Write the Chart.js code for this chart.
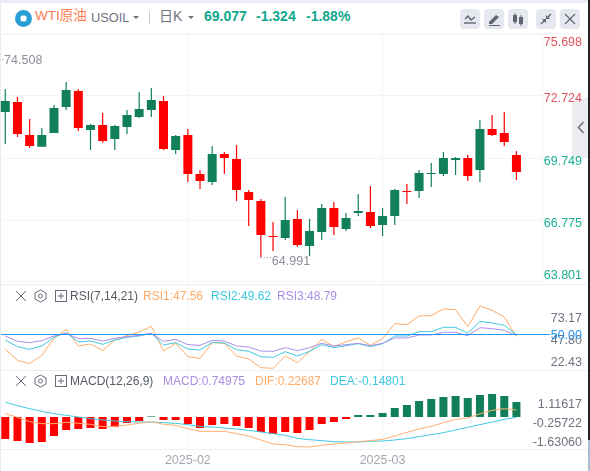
<!DOCTYPE html>
<html lang="zh">
<head>
<meta charset="utf-8">
<title>WTI原油 USOIL</title>
<script src="https://cdn.jsdelivr.net/npm/chart.js@4/dist/chart.umd.min.js"></script>
<style>
    html, body { margin: 0; padding: 0; background: #fff; overflow: hidden; }
    body { position: relative; width: 590px; height: 471px; font-family: "Liberation Sans", "Noto Sans CJK SC", sans-serif; }
    canvas { position: absolute; left: 0; }
    .t { position: absolute; white-space: nowrap; line-height: 16px; }
    .raya { position: absolute; background: #eceef2; }
    .boton { position: absolute; top: 9px; width: 20px; height: 20px; background: #e6e8ef; border-radius: 4px; }
    .boton svg, .icono { position: absolute; display: block; }
    .caret { position: absolute; width: 0; height: 0; border-left: 3px solid transparent; border-right: 3px solid transparent; border-top: 3px solid #6e7380; }
</style>
</head>
<body>
    <div class="raya" style="left:0;top:0;width:588px;height:3px;background:#e9edf3"></div>
    <div class="raya" style="left:0;top:3px;width:1px;height:468px;background:#e6e9f2"></div>
    <div class="raya" style="left:588px;top:0;width:2px;height:440px;background:#222"></div>
    <div class="raya" style="left:588px;top:440px;width:2px;height:31px;background:#a9bdd1"></div>
    <div class="raya" style="left:0;top:33px;width:587px;height:1px;background:#f5f6f8"></div>
    <div class="raya" style="left:0;top:284px;width:587px;height:1px"></div>
    <div class="raya" style="left:0;top:370px;width:587px;height:1px"></div>
    <div class="raya" style="left:0;top:449px;width:587px;height:1px"></div>
    <div class="raya" style="left:572px;top:97px;width:16px;height:61px;background:#ebebf0;clip-path:polygon(0 6px,100% 0,100% 100%,0 100%)"></div>
    <svg class="icono" style="left:577px;top:121px" width="8" height="13"><path d="M6.5 1 L1.5 6.5 L6.5 12" fill="none" stroke="#6b7280" stroke-width="1.6"/></svg>

    <canvas id="precio" width="582" height="250" style="top:34px"></canvas>
    <canvas id="rsi" width="582" height="86" style="top:284px"></canvas>
    <canvas id="macd" width="582" height="101" style="top:370px"></canvas>

    <!-- cabecera -->
    <svg class="icono" style="left:15px;top:10px" width="17" height="17"><circle cx="8.5" cy="8.5" r="8.5" fill="#2a9fd6"/><rect x="5.5" y="5.5" width="6" height="6" rx="2" fill="#fff"/></svg>
    <span class="t" style="left:35px;top:8px;font-size:13.5px;color:#ff7b52">WTI原油</span>
    <span class="t" style="left:91px;top:10px;font-size:12.8px;color:#6e7380">USOIL</span>
    <i class="caret" style="left:133px;top:16px"></i>
    <div class="raya" style="left:149px;top:11px;width:1px;height:13px;background:#c9ccd4"></div>
    <span class="t" style="left:159px;top:8px;font-size:14px;color:#6e7380">日K</span>
    <i class="caret" style="left:188px;top:16px"></i>
    <span class="t" style="left:204px;top:8px;font-size:14px;font-weight:bold;color:#0fa78c">69.077</span>
    <span class="t" style="left:256px;top:8px;font-size:14px;font-weight:bold;color:#0fa78c">-1.324</span>
    <span class="t" style="left:306px;top:8px;font-size:14px;font-weight:bold;color:#0fa78c">-1.88%</span>

    <div class="boton" style="left:460px"><svg width="20" height="20"><path d="M5 10 L8 7 L11 11 L15 8" fill="none" stroke="#5f6472" stroke-width="1.4"/><path d="M4 14 H16" stroke="#5f6472" stroke-width="1.4"/></svg></div>
    <div class="boton" style="left:484px"><svg width="20" height="20"><path d="M5 13 L12 6 L15 8 L8 15 L5 15 Z" fill="#5f6472"/><path d="M5 16.5 H16" stroke="#5f6472" stroke-width="1"/></svg></div>
    <div class="boton" style="left:508px"><svg width="20" height="20"><rect x="5" y="6" width="4" height="7" fill="#5f6472"/><path d="M7 4 V15" stroke="#5f6472"/><rect x="11" y="8" width="4" height="7" fill="#5f6472"/><path d="M13 6 V17" stroke="#5f6472"/></svg></div>
    <div class="boton" style="left:536px"><svg width="20" height="20"><path d="M15 5 L11 9 M5 15 L9 11" stroke="#5f6472" stroke-width="1.4"/><path d="M10 6 V10 H14 Z M6 10 H10 V14 Z" fill="#5f6472"/></svg></div>
    <div class="boton" style="left:560px"><svg width="20" height="20"><path d="M5 5 L15 15 M15 5 L5 15" stroke="#5f6472" stroke-width="1.2"/></svg></div>

    <!-- cabecera RSI -->
    <svg class="icono" style="left:15px;top:290px" width="12" height="12"><path d="M1 1 L11 11 M11 1 L1 11" stroke="#666b78" stroke-width="1"/></svg>
    <svg class="icono" style="left:34px;top:289px" width="13" height="14"><path d="M6.5 1 L12 4 V10 L6.5 13 L1 10 V4 Z" fill="none" stroke="#666b78"/><circle cx="6.5" cy="7" r="2" fill="none" stroke="#666b78"/></svg>
    <svg class="icono" style="left:55px;top:290px" width="12" height="12"><rect x="0.5" y="0.5" width="11" height="11" fill="none" stroke="#666b78"/><path d="M6 3 V9 M3 6 H9" stroke="#666b78"/></svg>
    <span class="t" style="left:70px;top:288px;font-size:12px;color:#555a66">RSI(7,14,21)</span>
    <span class="t" style="left:143px;top:288px;font-size:12px;color:#ffab66">RSI1:47.56</span>
    <span class="t" style="left:211px;top:288px;font-size:12px;color:#3ec8e0">RSI2:49.62</span>
    <span class="t" style="left:277px;top:288px;font-size:12px;color:#a98ee6">RSI3:48.79</span>

    <!-- cabecera MACD -->
    <svg class="icono" style="left:15px;top:375px" width="12" height="12"><path d="M1 1 L11 11 M11 1 L1 11" stroke="#666b78" stroke-width="1"/></svg>
    <svg class="icono" style="left:34px;top:374px" width="13" height="14"><path d="M6.5 1 L12 4 V10 L6.5 13 L1 10 V4 Z" fill="none" stroke="#666b78"/><circle cx="6.5" cy="7" r="2" fill="none" stroke="#666b78"/></svg>
    <svg class="icono" style="left:55px;top:375px" width="12" height="12"><rect x="0.5" y="0.5" width="11" height="11" fill="none" stroke="#666b78"/><path d="M6 3 V9 M3 6 H9" stroke="#666b78"/></svg>
    <span class="t" style="left:70px;top:373px;font-size:12px;color:#555a66">MACD(12,26,9)</span>
    <span class="t" style="left:163px;top:373px;font-size:12px;color:#a98ee6">MACD:0.74975</span>
    <span class="t" style="left:255px;top:373px;font-size:12px;color:#ffab66">DIF:0.22687</span>
    <span class="t" style="left:330px;top:373px;font-size:12px;color:#3ec8e0">DEA:-0.14801</span>

<script>
// --- DATOS ---
const aperturas = [71.956,72.435,70.852,70.291,70.948,72.195,72.963,71.092,71.332,70.660,71.236,71.716,72.052,72.483,70.133,70.852,68.981,68.598,69.941,69.701,68.118,67.686,66.007,65.911,66.823,65.528,66.199,67.350,66.343,67.111,67.159,66.535,66.967,68.166,68.166,68.981,68.981,69.653,69.749,69.173,71.140,70.948,69.893];
const cierres = [72.483,70.900,70.325,70.852,72.148,73.011,71.188,71.332,70.564,71.284,71.812,72.100,72.531,70.181,70.804,68.981,68.646,69.941,69.749,68.214,67.734,66.055,65.959,66.775,65.576,66.247,67.350,66.439,66.871,67.207,66.487,66.967,68.214,68.118,69.029,69.029,69.749,69.749,68.886,71.140,70.852,70.517,69.077];
const maximos = [73.059,72.675,71.620,71.188,72.291,73.395,73.059,71.380,71.908,71.332,72.052,72.915,73.107,72.723,70.852,71.140,69.173,70.325,70.037,70.373,68.214,67.782,66.679,67.878,67.255,66.823,67.542,67.638,67.111,68.022,68.406,67.350,68.262,68.502,69.173,69.509,70.037,69.797,69.893,71.572,71.812,71.956,70.085];
const minimos = [70.421,70.756,70.243,70.277,70.948,72.052,71.044,70.133,70.483,70.133,70.900,71.668,71.716,70.133,69.941,68.598,68.262,68.454,68.981,67.686,66.487,64.991,65.288,65.815,65.480,65.040,65.815,66.055,66.247,66.967,66.391,66.007,66.535,67.542,67.830,68.358,68.886,68.934,68.646,68.598,70.804,70.325,68.694];

const rsi1 = [32.66,19.97,16.13,25.74,45.35,55.73,36.50,38.81,31.12,43.43,48.42,52.65,59.19,30.74,39.58,24.20,22.28,40.35,39.58,24.97,21.51,11.51,10.74,24.97,17.28,29.97,44.19,35.74,41.50,45.73,37.27,44.96,62.27,61.11,71.11,71.49,79.18,78.41,58.81,82.64,77.65,69.96,47.56];
const rsi2 = [43.43,35.74,32.66,36.50,46.50,51.88,41.12,42.27,38.43,43.43,46.50,48.04,51.12,37.66,40.35,33.04,31.89,40.73,39.96,32.27,30.35,24.20,23.43,29.97,24.97,30.35,38.04,34.58,36.89,39.20,35.74,39.20,48.04,48.04,53.04,53.04,58.04,58.04,51.12,64.96,63.03,60.34,49.62];
const rsi3 = [48.04,41.89,40.35,42.66,48.04,51.12,44.96,45.35,42.27,45.35,47.27,48.81,51.12,41.89,44.19,38.04,37.27,43.04,42.27,36.50,35.35,30.74,30.35,34.58,31.12,34.58,39.58,36.50,38.04,39.58,36.89,39.58,45.73,45.73,49.19,49.19,52.27,52.27,48.42,57.65,56.50,54.58,48.79];

const histograma = [-1.10,-1.20,-1.30,-1.25,-0.95,-0.65,-0.60,-0.55,-0.60,-0.50,-0.30,-0.20,0.03,-0.15,-0.15,-0.35,-0.55,-0.40,-0.35,-0.45,-0.55,-0.75,-0.85,-0.75,-0.80,-0.65,-0.35,-0.25,-0.10,0.10,0.10,0.20,0.45,0.60,0.80,0.90,1.00,1.05,0.95,1.10,1.15,1.05,0.74975];
const dif = [0.208,-0.061,-0.380,-0.527,-0.527,-0.429,-0.502,-0.576,-0.748,-0.723,-0.625,-0.502,-0.380,-0.576,-0.650,-0.895,-1.091,-1.091,-1.091,-1.262,-1.434,-1.728,-2.022,-2.071,-2.218,-2.243,-2.120,-2.022,-1.949,-1.851,-1.777,-1.679,-1.434,-1.164,-0.919,-0.723,-0.453,-0.208,-0.110,0.208,0.453,0.576,0.478];
const dea = [1.042,0.797,0.576,0.380,0.208,0.086,-0.037,-0.159,-0.257,-0.331,-0.380,-0.404,-0.404,-0.453,-0.502,-0.600,-0.723,-0.772,-0.846,-0.919,-1.017,-1.140,-1.262,-1.385,-1.605,-1.703,-1.777,-1.851,-1.875,-1.875,-1.826,-1.801,-1.728,-1.630,-1.483,-1.336,-1.189,-0.993,-0.797,-0.600,-0.404,-0.208,-0.061];

const ticksPrecio = [75.698,72.724,69.749,66.775,63.801];
const ticksRsi = [73.17,47.80,22.43];
const ticksMacd = [1.11617,-0.25722,-1.63060];
const ticksFechaIndice = [15,31];
const ticksFechaTexto = ['2025-02','2025-03'];

// maximo y minimo marcados sobre la grafica (el primero cae fuera por la izquierda)
const marcasIndice = [-1,21];
const marcasValor = [74.508,64.991];

// --- ESTILOS ---
const ROJO = '#ff0000';
const VERDE = '#118058';
const GRIS = '#6e7380';
const FUENTE = { family: '"Liberation Sans", sans-serif', size: 12.5 };
const REJILLA = '#f3f4f7';

Chart.defaults.animation = false;
Chart.defaults.responsive = false;
Chart.defaults.plugins.legend.display = false;
Chart.defaults.plugins.tooltip.enabled = false;

const indices = aperturas.map((_, i) => i);
const puntos = serie => serie.map((y, i) => ({ x: i, y: y }));
const colorVela = aperturas.map((a, i) => cierres[i] >= a ? VERDE : ROJO);

function ejeX(conTexto) {
    return {
        type: 'linear',
        min: -0.435,
        max: 44.1,
        offset: false,
        grid: { offset: false, color: REJILLA, drawTicks: false },
        border: { display: false },
        afterBuildTicks: s => { s.ticks = ticksFechaIndice.map(v => ({ value: v })); },
        afterFit: s => { s.height = conTexto ? 22 : 0; s.paddingLeft = 0; s.paddingRight = 0; },
        ticks: {
            display: conTexto,
            autoSkip: false,
            maxRotation: 0,
            padding: 4,
            color: '#a4a7ae',
            font: FUENTE,
            callback: v => ticksFechaTexto[ticksFechaIndice.indexOf(v)]
        }
    };
}

function ajustarEjeY(s) {
    s.width = 40;
    s.paddingTop = 0;
    s.paddingBottom = 0;
}

// --- VELAS ---
// las etiquetas extremas del eje de precio van metidas hacia dentro del panel
const ajusteEtiquetas = [8.7, 2.3, 3.7, 3.7, -6];
function moverEtiquetas(s) {
    if (s._etiquetasMovidas) return;
    s._etiquetasMovidas = true;
    const original = s._computeLabelItems.bind(s);
    s._computeLabelItems = area => {
        const items = original(area);
        items.forEach((it, i) => { it.options.translation[1] += ajusteEtiquetas[i]; });
        return items;
    };
}

const ajusteMarcas = [2, 4];
const marcasPlugin = {
    id: 'marcas',
    afterDatasetsDraw(chart) {
        const { ctx, scales } = chart;
        ctx.save();
        ctx.font = '12.5px "Liberation Sans", sans-serif';
        ctx.fillStyle = '#8a8f99';
        ctx.strokeStyle = '#8a8f99';
        ctx.textBaseline = 'middle';
        marcasIndice.forEach((idx, i) => {
            const px = scales.x.getPixelForValue(idx);
            const py = scales.y.getPixelForValue(marcasValor[i]);
            ctx.setLineDash([1, 2]);
            ctx.beginPath();
            ctx.moveTo(px, py + 0.5);
            ctx.lineTo(px + 10, py + 0.5);
            ctx.stroke();
            ctx.fillText(marcasValor[i].toFixed(3), px + 11, py + ajusteMarcas[i]);
        });
        ctx.restore();
    }
};

new Chart(document.getElementById('precio'), {
    type: 'bar',
    data: {
        datasets: [
            {
                data: indices.map(i => ({ x: i, y: [minimos[i], maximos[i]] })),
                backgroundColor: colorVela,
                barThickness: 1.2,
                inflateAmount: 0,
                grouped: false,
                order: 2
            },
            {
                data: indices.map(i => ({ x: i, y: [aperturas[i], cierres[i]] })),
                backgroundColor: colorVela,
                barThickness: 9,
                inflateAmount: 0,
                grouped: false,
                order: 1
            }
        ]
    },
    options: {
        layout: { padding: 0 },
        scales: {
            x: ejeX(false),
            y: {
                position: 'right',
                min: 63.705,
                max: 75.698,
                grid: { color: REJILLA, drawTicks: false },
                border: { display: true, color: '#f0f1f4' },
                afterBuildTicks: s => { s.ticks = ticksPrecio.map(v => ({ value: v })); moverEtiquetas(s); },
                afterFit: ajustarEjeY,
                ticks: {
                    autoSkip: false,
                    crossAlign: 'far',
                    font: FUENTE,
                    color: c => c.index < 2 ? '#e0515f' : '#1aae92',
                    callback: v => v.toFixed(3)
                }
            }
        }
    },
    plugins: [marcasPlugin]
});

// --- RSI ---
const lineaRsiPlugin = {
    id: 'lineaRsi',
    afterDatasetsDraw(chart) {
        const { ctx, scales } = chart;
        const y = Math.round(scales.y.getPixelForValue(50)) + 0.5;
        ctx.save();
        ctx.strokeStyle = '#2196f3';
        ctx.lineWidth = 1;
        ctx.beginPath();
        ctx.moveTo(1, y);
        ctx.lineTo(550, y);
        ctx.stroke();
        ctx.restore();
    },
    afterDraw(chart) {
        const { ctx, scales } = chart;
        ctx.save();
        ctx.font = '12.5px "Liberation Sans", sans-serif';
        ctx.fillStyle = '#2196f3';
        ctx.textAlign = 'right';
        ctx.textBaseline = 'middle';
        ctx.fillText('50.00', 582, scales.y.getPixelForValue(50) + 1);
        ctx.restore();
    }
};

new Chart(document.getElementById('rsi'), {
    type: 'line',
    data: {
        datasets: [
            { data: puntos(rsi3), borderColor: '#a98ee6', borderWidth: 1, pointRadius: 0 },
            { data: puntos(rsi2), borderColor: '#3ec8e0', borderWidth: 1, pointRadius: 0 },
            { data: puntos(rsi1), borderColor: '#ffab66', borderWidth: 1, pointRadius: 0 }
        ]
    },
    options: {
        layout: { padding: 0 },
        scales: {
            x: ejeX(false),
            y: {
                position: 'right',
                min: 8.82,
                max: 108,
                grid: { display: false },
                border: { display: false },
                afterBuildTicks: s => { s.ticks = ticksRsi.map(v => ({ value: v })); },
                afterFit: ajustarEjeY,
                ticks: {
                    autoSkip: false,
                    crossAlign: 'far',
                    labelOffset: 4.5,
                    font: FUENTE,
                    color: GRIS,
                    callback: v => v.toFixed(2)
                }
            }
        }
    },
    plugins: [lineaRsiPlugin]
});

// --- MACD ---
new Chart(document.getElementById('macd'), {
    type: 'bar',
    data: {
        datasets: [
            {
                type: 'line',
                data: puntos(dea),
                yAxisID: 'y',
                borderColor: '#3ec8e0',
                borderWidth: 1,
                pointRadius: 0,
                order: 1
            },
            {
                type: 'line',
                data: puntos(dif),
                yAxisID: 'y',
                borderColor: '#ffb070',
                borderWidth: 1,
                pointRadius: 0,
                order: 0
            },
            {
                data: puntos(histograma),
                yAxisID: 'yHist',
                backgroundColor: histograma.map(v => v >= 0 ? VERDE : ROJO),
                barThickness: 8,
                inflateAmount: 0,
                order: 2
            }
        ]
    },
    options: {
        layout: { padding: 0 },
        scales: {
            x: ejeX(true),
            y: {
                position: 'right',
                min: -2.39,
                max: 3.419,
                grid: { display: false },
                border: { display: false },
                afterBuildTicks: s => { s.ticks = ticksMacd.map(v => ({ value: v })); },
                afterFit: ajustarEjeY,
                ticks: {
                    autoSkip: false,
                    // en espejo para que el signo menos no se recorte al salir del eje
                    mirror: true,
                    padding: 40,
                    labelOffset: 3.5,
                    font: FUENTE,
                    color: GRIS,
                    callback: v => v.toFixed(5)
                }
            },
            yHist: {
                display: false,
                min: -1.6,
                max: 2.35
            }
        }
    }
});
</script>
</body>
</html>
